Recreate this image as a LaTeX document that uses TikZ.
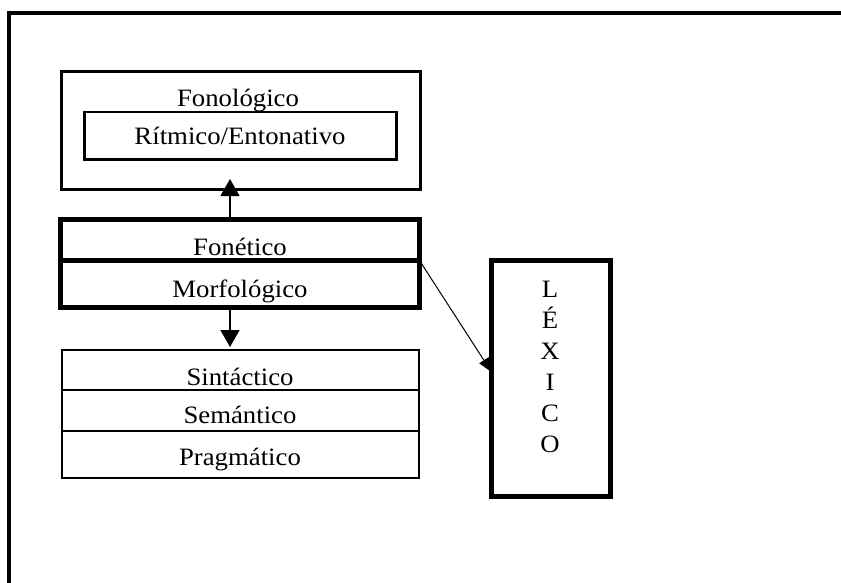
\documentclass[tikz,border=0pt]{standalone}
\usepackage{fontspec}
\setmainfont{Liberation Serif}[FakeStretch=1.07]
\usetikzlibrary{arrows.meta,calc}

\begin{document}
\begin{tikzpicture}[x=1pt,y=-1pt,
  boxthin/.style={draw, rectangle, inner sep=0pt, outer sep=0pt},
  lbl/.style={anchor=base, inner sep=0pt, font=\fontsize{25}{30}\selectfont},
  tip/.style={-{Triangle[length=17pt,width=19pt]}, line width=1.4pt},
  tipsmall/.style={-{Triangle[length=14pt,width=11pt]}, line width=1pt}]

\useasboundingbox (0,0) rectangle (841,582);

% frame of the page (runs off the right and bottom edges)
\draw[line width=4pt] (9,600) -- (9,13) -- (860,13);

% phonological level with its rhythmic/intonative sub-level
\node[boxthin, line width=3pt, minimum width=358.5pt, minimum height=118.5pt] (fonol) at (240.75,130.25) {};
\node[lbl] (tfonol) at (238,106) {Fonológico};
\node[boxthin, line width=2.5pt, minimum width=312pt, minimum height=47.5pt] (ritmo) at (240.5,135.75) {};
\node[lbl] (tritmo) at (240,144) {Rítmico/Entonativo};

% phonetic and morphological levels (heavy box)
\node[boxthin, line width=5pt, minimum width=359pt, minimum height=41.5pt] (fonet) at (240,239.75) {};
\node[boxthin, line width=5pt, minimum width=359pt, minimum height=46.5pt] (morf) at (240,283.75) {};
\node[lbl] (tfonet) at (240,255) {Fonético};
\node[lbl] (tmorf) at (240,297) {Morfológico};

% syntactic, semantic and pragmatic levels
\node[boxthin, line width=1.5pt, minimum width=357pt, minimum height=40pt] (sint) at (240.5,370) {};
\node[boxthin, line width=1.5pt, minimum width=357pt, minimum height=41pt] (sem) at (240.5,410.5) {};
\node[boxthin, line width=1.5pt, minimum width=357pt, minimum height=47pt] (prag) at (240.5,454.5) {};
\draw[line width=2pt] (sint.north west) rectangle (prag.south east);
\node[lbl] (tsint) at (240,385) {Sintáctico};
\node[lbl] (tsem) at (240,423) {Semántico};
\node[lbl] (tprag) at (240,465) {Pragmático};

% lexicon
\node[boxthin, line width=5pt, minimum width=119pt, minimum height=236pt] (lexico) at (551,378.5) {};
\foreach \ch [count=\i from 0] in {L,É,X,I,C,O}
  \node[lbl] (lex\i) at (550,297+31*\i) {\ch};

% connectors
\coordinate (upA) at (230,219);
\coordinate (upB) at (230,179);
\draw[tip] (upA) -- (upB);
\coordinate (dnA) at (230,307);
\coordinate (dnB) at (230,347);
\draw[tip] (dnA) -- (dnB);
\draw[tipsmall] (fonet.south east) -- ([yshift=6.5pt]lexico.west);
\end{tikzpicture}
\end{document}
